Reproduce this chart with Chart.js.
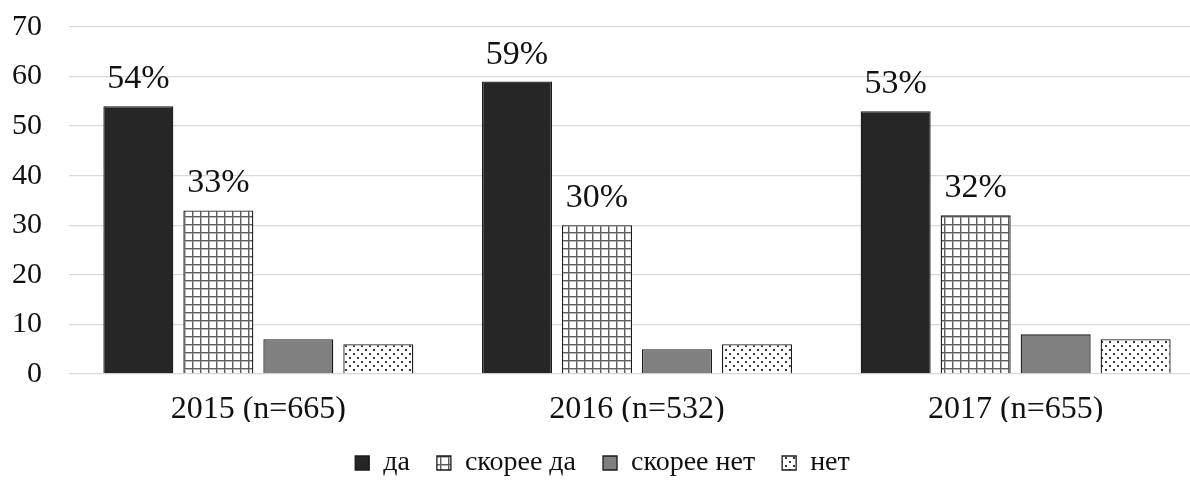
<!DOCTYPE html>
<html><head><meta charset="utf-8">
<script src="https://cdn.jsdelivr.net/npm/chart.js@4.4.1/dist/chart.umd.min.js"></script>
<style>
html,body{margin:0;padding:0;background:#fff;overflow:hidden;}
#wrap{width:1190px;height:482px;overflow:hidden;position:relative;}
#box{width:1230px;height:482px;position:absolute;left:0;top:0;}
</style></head><body>
<div id="wrap"><div id="box"><canvas id="c"></canvas></div></div>
<script>
const categories = ['2015 (n=665)', '2016 (n=532)', '2017 (n=655)'];
const seriesNames = ['да', 'скорее да', 'скорее нет', 'нет'];
const valuesDa = [54, 59, 53];
const valuesSkoreeDa = [33, 30, 32];
const valuesSkoreeNet = [7, 5, 8];
const valuesNet = [6, 6, 7];
const yTicks = [0, 10, 20, 30, 40, 50, 60, 70];
const labelledSeries = [0, 1];

function gridPattern() {
  const c = document.createElement('canvas'); c.width = 8; c.height = 8;
  const g = c.getContext('2d');
  g.fillStyle = '#fff'; g.fillRect(0, 0, 8, 8);
  g.fillStyle = '#b8b8b8'; g.fillRect(0, 1, 8, 1); g.fillRect(1, 0, 1, 8);
  g.fillStyle = '#5e5e5e'; g.fillRect(0, 0, 8, 1); g.fillRect(0, 0, 1, 8);
  return g.createPattern(c, 'repeat');
}
function dotPattern() {
  const c = document.createElement('canvas'); c.width = 8; c.height = 8;
  const g = c.getContext('2d');
  g.fillStyle = '#fff'; g.fillRect(0, 0, 8, 8);
  g.fillStyle = '#3a3a3a'; g.fillRect(1, 1, 2, 2); g.fillRect(5, 5, 2, 2);
  return g.createPattern(c, 'repeat');
}

const fills = ['#262626', gridPattern(), '#808080', dotPattern()];
const seriesValues = [valuesDa, valuesSkoreeDa, valuesSkoreeNet, valuesNet];

const valueLabels = {
  id: 'valueLabels',
  afterDatasetsDraw(chart) {
    const ctx = chart.ctx;
    ctx.save();
    ctx.font = '34px "Liberation Serif"';
    ctx.fillStyle = '#111';
    ctx.textAlign = 'center';
    ctx.textBaseline = 'alphabetic';
    labelledSeries.forEach(di => {
      const meta = chart.getDatasetMeta(di);
      meta.data.forEach((bar, i) => {
        const v = chart.data.datasets[di].data[i];
        ctx.fillText(v + '%', bar.x, bar.y - 18);
      });
    });
    ctx.restore();
  }
};

const legendPlacer = {
  id: 'legendPlacer',
  afterLayout(chart) {
    const lg = chart.legend;
    if (!lg) return;
    const h = lg.height;
    lg.top = 463 - 27 - 14;
    lg.bottom = lg.top + h;
  }
};

new Chart(document.getElementById('c'), {
  type: 'bar',
  data: {
    labels: categories,
    datasets: seriesNames.map((n, i) => ({
      label: n,
      data: seriesValues[i],
      backgroundColor: fills[i],
      borderColor: '#1a1a1a',
      borderWidth: 1.3,
      categoryPercentage: 0.845,
      barPercentage: 0.875
    }))
  },
  options: {
    responsive: true,
    maintainAspectRatio: false,
    animation: false,
    devicePixelRatio: 1,
    layout: { padding: { top: 27, right: 25, bottom: 0, left: 0 } },
    plugins: {
      tooltip: { enabled: false },
      legend: {
        position: 'bottom',
        maxHeight: 60,
        labels: {
          font: { family: 'Liberation Serif', size: 28 },
          color: '#111',
          boxWidth: 14,
          boxHeight: 14,
          padding: 27
        }
      }
    },
    scales: {
      x: {
        grid: { display: false, drawTicks: false },
        border: { display: false },
        ticks: { font: { family: 'Liberation Serif', size: 32 }, color: '#111', padding: 16 },
        afterFit: s => { s.height = 48; }
      },
      y: {
        min: 0, max: 70,
        afterBuildTicks: s => { s.ticks = yTicks.map(v => ({ value: v })); },
        grid: { color: '#d9d9d9', lineWidth: 1.3, drawTicks: false },
        border: { display: false },
        ticks: { font: { family: 'Liberation Serif', size: 30 }, color: '#111', padding: 27 },
        afterFit: s => { s.width = 69; s.paddingTop = 0; s.paddingBottom = 0; }
      }
    }
  },
  plugins: [valueLabels, legendPlacer]
});
</script>
</body></html>
